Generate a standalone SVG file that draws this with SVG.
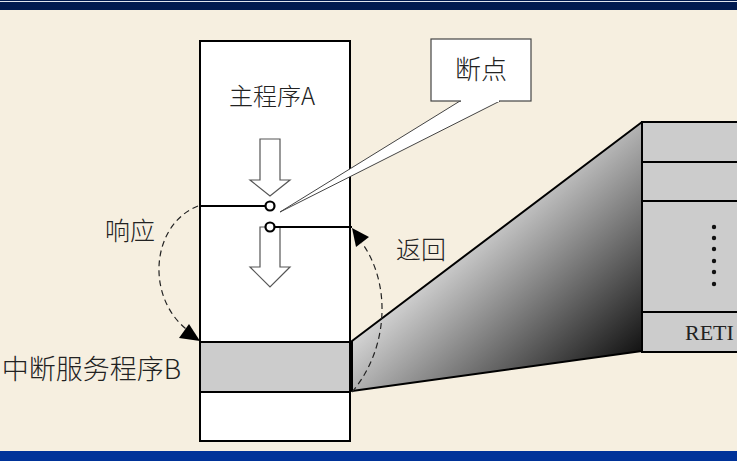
<svg xmlns="http://www.w3.org/2000/svg" width="737" height="461" viewBox="0 0 737 461">
<defs>
<style>
.box{fill:#fff;stroke:#000;stroke-width:2}
.gray{fill:#cccccc;stroke:#000;stroke-width:2}
.ln{fill:none;stroke:#000;stroke-width:2}
.dash{fill:none;stroke:#222;stroke-width:1.2;stroke-dasharray:6 4}
.hollow{fill:#fff;stroke:#555;stroke-width:1.2}
.cjk{font-family:"Noto Sans CJK SC","Liberation Serif",sans-serif;font-size:24px;fill:#222;font-weight:300}
.serif{font-family:"Liberation Serif",serif;font-size:22px;fill:#222}
</style>
<linearGradient id="g" gradientUnits="userSpaceOnUse" x1="470" y1="170" x2="640" y2="355">
<stop offset="0" stop-color="#ffffff"/>
<stop offset="1" stop-color="#111111"/>
</linearGradient>
</defs>
<rect x="0" y="0" width="737" height="461" fill="#f6efe0"/>
<rect x="0" y="0" width="737" height="10" fill="#001a50"/>
<rect x="0" y="1" width="737" height="1" fill="#dfe4ee"/>
<rect x="0" y="451" width="737" height="10" fill="#003399"/>

<g id="mainA">
<rect class="box" x="200" y="41" width="150" height="400"/>
<text class="cjk" x="272" y="105" text-anchor="middle">主程序A</text>
</g>
<g id="serviceB">
<rect class="gray" x="200" y="342" width="150" height="50"/>
<text class="cjk" x="181" y="379" text-anchor="end" style="font-size:27px">中断服务程序B</text>
</g>
<g id="flowArrows">
<polygon class="hollow" points="260,139 280,139 280,180 290,180 270,196 250,180 260,180"/>
<polygon class="hollow" points="260,227 280,227 280,267 290,267 270,287 250,267 260,267"/>
</g>
<g id="callout">
<polygon points="460,101 280,212 500,101" fill="#fff" stroke="#444" stroke-width="1"/>
<rect x="431" y="39" width="100" height="62" fill="#fff" stroke="#444" stroke-width="1.2"/>
<line x1="461" y1="101" x2="499" y2="101" stroke="#fff" stroke-width="2"/>
<text class="cjk" x="481" y="79" text-anchor="middle" style="font-size:26px">断点</text>
</g>
<g id="zoom">
<polygon points="352,341 642,122 642,351 352,391" fill="url(#g)" stroke="#000" stroke-width="2" stroke-linejoin="round"/>
</g>
<g id="stack">
<rect class="gray" x="642" y="122" width="110" height="230"/>
<line class="ln" x1="642" y1="162" x2="737" y2="162"/>
<line class="ln" x1="642" y1="201" x2="737" y2="201"/>
<line class="ln" x1="642" y1="312" x2="737" y2="312"/>
<g fill="#111">
<circle cx="714" cy="227" r="2.2"/>
<circle cx="714" cy="238" r="2.2"/>
<circle cx="714" cy="249" r="2.2"/>
<circle cx="714" cy="261" r="2.2"/>
<circle cx="714" cy="272" r="2.2"/>
<circle cx="714" cy="284" r="2.2"/>
</g>
<text class="serif" x="685" y="340">RETI</text>
</g>
<g id="connectors">
<line class="ln" x1="200" y1="206" x2="265" y2="206"/>
<circle cx="270" cy="206" r="4.5" fill="#fff" stroke="#000" stroke-width="2.2"/>
<line class="ln" x1="275" y1="227" x2="352" y2="227"/>
<circle cx="270" cy="227" r="4.5" fill="#fff" stroke="#000" stroke-width="2.2"/>
<path class="dash" d="M198,206 C150,225 145,300 190,332"/>
<polygon points="200,341 179,338 189,324" fill="#000"/>
<path class="dash" d="M352,392 C388,350 392,285 362,243"/>
<polygon points="352,228 369,237 356,247" fill="#000"/>
<text class="cjk" x="130" y="240" text-anchor="middle" style="font-size:25px">响应</text>
<text class="cjk" x="421" y="259" text-anchor="middle" style="font-size:25px">返回</text>
</g>
</svg>
